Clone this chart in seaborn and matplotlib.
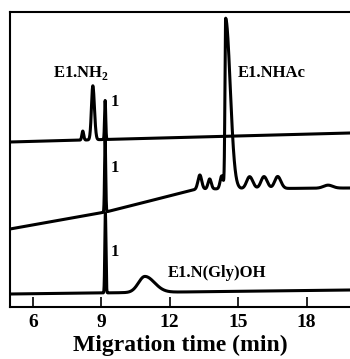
import numpy as np
import pandas as pd
import matplotlib
matplotlib.use("Agg")
import matplotlib.pyplot as plt
import seaborn as sns

# Electropherogram traces: baselines (time, signal) and peaks
# (centre in min, height, left width, right width)
top_base_t = [5.0, 19.9]
top_base_v = [165, 174]
top_centers = [8.19, 8.63, 9.17]
top_heights = [9, 54, 39]
top_sig_l = [0.04, 0.06, 0.025]
top_sig_r = [0.04, 0.07, 0.025]

mid_base_t = [5.0, 9.2, 12.5, 13.2, 19.9]
mid_base_v = [78, 95, 114, 118, 119]
mid_centers = [9.17, 13.32, 13.75, 14.28, 14.45, 15.50, 16.13, 16.73, 18.94]
mid_heights = [72, 14, 10, 13, 170, 12, 12, 12, 3]
mid_sig_l = [0.025, 0.08, 0.07, 0.07, 0.03, 0.13, 0.13, 0.13, 0.2]
mid_sig_r = [0.025, 0.08, 0.07, 0.07, 0.2, 0.14, 0.14, 0.14, 0.2]

bot_base_t = [5.0, 19.9]
bot_base_v = [13, 17]
bot_centers = [9.18, 10.91]
bot_heights = [80, 16]
bot_sig_l = [0.025, 0.28]
bot_sig_r = [0.025, 0.42]

tick_values = [6, 9, 12, 15, 18]
x_label = "Migration time (min)"

t = np.linspace(5.0, 19.9, 4000)


def trace(base_t, base_v, centers, heights, sig_l, sig_r):
    y = np.interp(t, base_t, base_v).astype(float)
    for c, h, sl, sr in zip(centers, heights, sig_l, sig_r):
        s = np.where(t < c, sl, sr)
        y += h * np.exp(-0.5 * ((t - c) / s) ** 2)
    return y


df = pd.concat([
    pd.DataFrame({"time": t, "signal": trace(top_base_t, top_base_v, top_centers,
                                             top_heights, top_sig_l, top_sig_r), "run": "top"}),
    pd.DataFrame({"time": t, "signal": trace(mid_base_t, mid_base_v, mid_centers,
                                             mid_heights, mid_sig_l, mid_sig_r), "run": "mid"}),
    pd.DataFrame({"time": t, "signal": trace(bot_base_t, bot_base_v, bot_centers,
                                             bot_heights, bot_sig_l, bot_sig_r), "run": "bot"}),
])

sns.set_style("ticks")
plt.rcParams["font.family"] = ["Liberation Serif", "DejaVu Serif"]
plt.rcParams["font.weight"] = "bold"
plt.rcParams["mathtext.fontset"] = "custom"
plt.rcParams["mathtext.bf"] = "Liberation Serif:bold"
plt.rcParams["mathtext.rm"] = "Liberation Serif:bold"
plt.rcParams["text.color"] = "black"
plt.rcParams["axes.labelcolor"] = "black"
plt.rcParams["xtick.color"] = "black"
plt.rcParams["xtick.labelcolor"] = "black"

fig = plt.figure(figsize=(3.5, 3.59), dpi=100)
ax = fig.add_axes([10 / 350, 52 / 359, 1 - 10 / 350, 295 / 359])

for run in ["top", "mid", "bot"]:
    sns.lineplot(data=df[df["run"] == run], x="time", y="signal", ax=ax,
                 color="black", linewidth=2.2, estimator=None, sort=False)

ax.set_xlim(5.0, 19.9)
ax.set_ylim(0, 295)
ax.set_yticks([])
ax.set_xticks(tick_values)
ax.set_xticklabels([str(v) for v in tick_values], fontsize=14, fontweight="bold")
ax.tick_params(axis="x", direction="in", length=7, width=1.2, pad=5,
               colors="black", labelcolor="black")
ax.set_xlabel(x_label, fontsize=17, fontweight="bold", labelpad=3, color="black")
ax.set_ylabel("")
for side in ["left", "top", "bottom"]:
    ax.spines[side].set_linewidth(1.5)
    ax.spines[side].set_color("black")
ax.spines["right"].set_visible(False)

lab = dict(fontsize=12, fontweight="bold", color="black", ha="left", va="baseline")
ax.text(6.88, 230, r"E1.NH$_\mathbf{2}$", **lab)
ax.text(14.98, 230, "E1.NHAc", **lab)
ax.text(11.91, 30, "E1.N(Gly)OH", **lab)
ax.text(9.42, 201, "1", **lab)
ax.text(9.42, 135, "1", **lab)
ax.text(9.42, 51, "1", **lab)

fig.savefig("out.png", dpi=100)
